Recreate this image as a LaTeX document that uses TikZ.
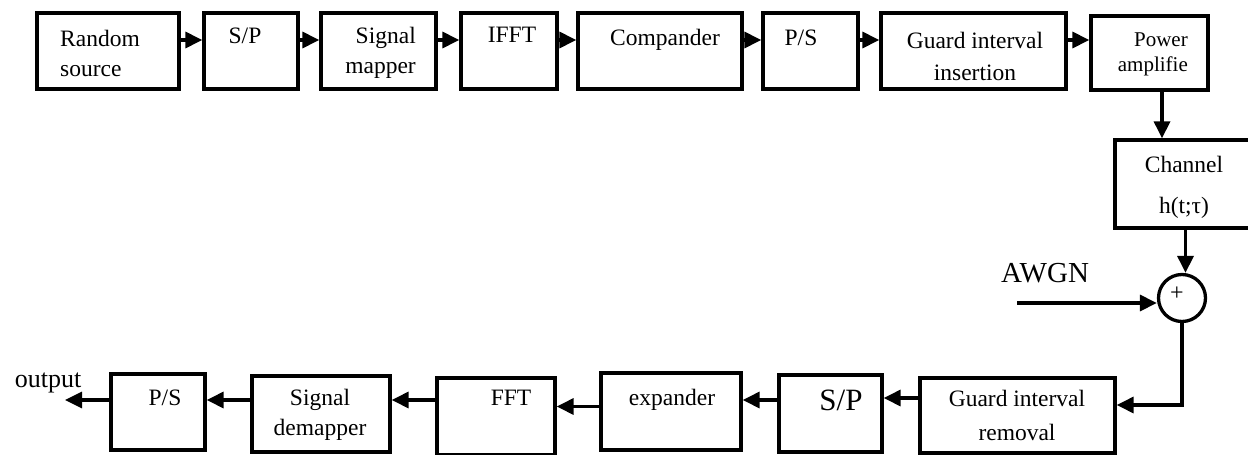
\documentclass[tikz,border=0pt]{standalone}
\usepackage{fontspec}
\setmainfont{Liberation Serif}
\usetikzlibrary{arrows.meta}
\begin{document}
\begin{tikzpicture}[x=1pt,y=-1pt,
  box/.style={draw, line width=3.3pt, inner sep=0pt},
  txt/.style={inner sep=0pt, font=\fontsize{23.5}{30}\selectfont},
  one/.style={txt, text height=16pt, text depth=5pt},
  arr/.style={line width=3.3pt, -{Triangle[length=17pt,width=16pt]}}
]
\useasboundingbox (0,0) rectangle (1248,455);
% top row boxes
\node[box, minimum width=142pt, minimum height=76pt] (rand) at (108,51) {};
\node[box, minimum width=94pt,  minimum height=76pt] (sp1)  at (251,51) {};
\node[box, minimum width=115pt, minimum height=76pt] (smap) at (378.5,51) {};
\node[box, minimum width=96pt,  minimum height=76pt] (ifft) at (509,51) {};
\node[box, minimum width=164pt, minimum height=76pt] (comp) at (660,51) {};
\node[box, minimum width=95pt,  minimum height=76pt] (ps1)  at (810.5,51) {};
\node[box, minimum width=185pt, minimum height=76pt] (gii)  at (973.5,51) {};
\node[box, minimum width=117pt, minimum height=74pt] (pa)   at (1149.5,53) {};
% top row texts
\node[txt, anchor=west, align=left] (randT) at (60,53) {Random\\source};
\node[one] (sp1T) at (245,38) {S/P};
\node[txt, anchor=east, align=right] (smapT) at (416,53) {Signal\\mapper};
\node[one] (ifftT) at (512,37) {IFFT};
\node[one] (compT) at (665,40) {Compander};
\node[one] (ps1T) at (801,40) {P/S};
\node[txt, align=center, font=\fontsize{23.5}{32}\selectfont] (giiT) at (975,56) {Guard interval\\insertion};
\node[inner sep=0pt, anchor=east, align=right, font=\fontsize{21}{25}\selectfont] (paT) at (1188,54.5) {Power\\amplifie};
% channel and adder
\node[box, minimum width=137pt, minimum height=88pt] (chan) at (1183.5,184) {};
\node[txt, align=center] (chanT) at (1184,187.5) {Channel\\[11pt]h(t;τ)};
\node[draw, circle, line width=3.3pt, minimum size=47pt, inner sep=0pt] (sum) at (1182,298) {};
\node[inner sep=0pt, font=\fontsize{24}{28}\selectfont] (plusT) at (1177,294) {+};
\node[inner sep=0pt, font=\fontsize{29}{34}\selectfont] (awgnT) at (1045,273) {AWGN};
\coordinate (awgnS) at (1017,303);
% bottom row boxes
\node[box, minimum width=94pt,  minimum height=76pt] (ps2) at (158,412) {};
\node[box, minimum width=138pt, minimum height=76pt] (sdm) at (321,414) {};
\node[box, minimum width=118pt, minimum height=77pt] (fft) at (496,416.5) {};
\node[box, minimum width=140pt, minimum height=77pt] (exp) at (671,411.5) {};
\node[box, minimum width=103pt, minimum height=77pt] (sp2) at (830.5,413.5) {};
\node[box, minimum width=195pt, minimum height=75pt] (gir) at (1017.5,415.5) {};
% bottom row texts
\node[one] (ps2T) at (165,400) {P/S};
\node[txt, align=center] (sdmT) at (320,415) {Signal\\demapper};
\node[one] (fftT) at (511,400) {FFT};
\node[one] (expT) at (672,400) {expander};
\node[inner sep=0pt, font=\fontsize{31}{36}\selectfont] (sp2T) at (841,400) {S/P};
\node[txt, align=center, font=\fontsize{23.5}{34}\selectfont] (girT) at (1017,415) {Guard interval\\removal};
\node[inner sep=0pt, font=\fontsize{26}{30}\selectfont] (outT) at (48,383) {output};
\coordinate (outE) at (65,400);
% top row arrows
\draw[arr] ([yshift=11pt]rand.east) -- ([yshift=11pt]rand.east -| sp1.west);
\draw[arr] ([yshift=11pt]sp1.east) -- ([yshift=11pt]sp1.east -| smap.west);
\draw[arr] ([yshift=11pt]smap.east) -- ([yshift=11pt]smap.east -| ifft.west);
\draw[arr] ([yshift=11pt]ifft.east) -- ([yshift=11pt]ifft.east -| comp.west);
\draw[arr] ([yshift=11pt]comp.east) -- ([yshift=11pt]comp.east -| ps1.west);
\draw[arr] ([yshift=11pt]ps1.east) -- ([yshift=11pt]ps1.east -| gii.west);
\draw[arr] ([yshift=11pt]gii.east) -- ([yshift=11pt]gii.east -| pa.west);
% down the right side
\draw[arr] ([xshift=12.5pt]pa.south) -- ([xshift=12.5pt]pa.south |- chan.north);
\draw[arr] ([xshift=2pt]chan.south) -- ([xshift=2pt]chan.south |- sum.north);
\draw[arr] (awgnS) -- (awgnS -| sum.west);
\draw[arr] (sum.south) |- ([yshift=10.5pt]gir.east);
% bottom row arrows
\draw[arr] ([yshift=17.5pt]gir.west) -- ([yshift=17.5pt]gir.west -| sp2.east);
\draw[arr] ([yshift=13.5pt]sp2.west) -- ([yshift=13.5pt]sp2.west -| exp.east);
\draw[arr] ([yshift=5pt]exp.west) -- ([yshift=5pt]exp.west -| fft.east);
\draw[arr] ([yshift=16.5pt]fft.west) -- ([yshift=16.5pt]fft.west -| sdm.east);
\draw[arr] ([yshift=14pt]sdm.west) -- ([yshift=14pt]sdm.west -| ps2.east);
\draw[arr] ([yshift=12pt]ps2.west) -- (outE);
\end{tikzpicture}
\end{document}
